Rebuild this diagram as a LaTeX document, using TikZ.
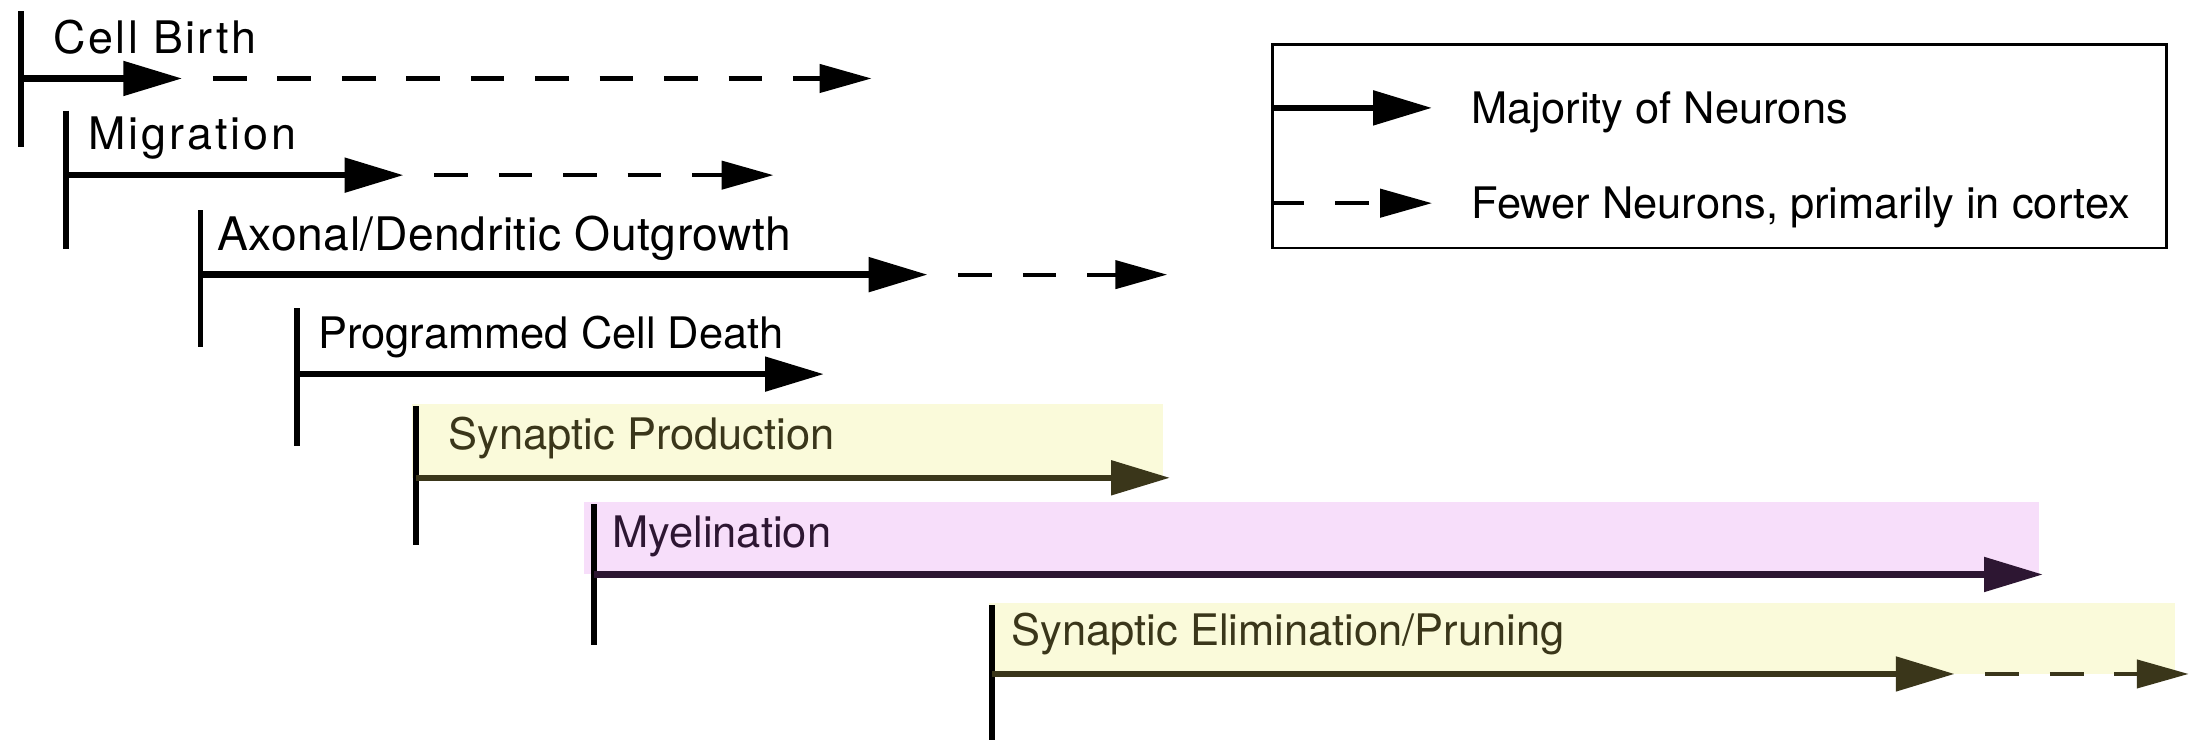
\documentclass[tikz,border=0pt]{standalone}
\usepackage{fontspec}
\setmainfont{TeX Gyre Heros}
\usetikzlibrary{arrows.meta}
\definecolor{ylw}{RGB}{250,250,218}
\definecolor{pnk}{RGB}{247,222,250}
\definecolor{olv}{RGB}{58,54,26}
\definecolor{plm}{RGB}{45,22,50}
\tikzset{
  lbl/.style={anchor=base west, font=\fontsize{31}{36}\selectfont, inner sep=0pt},
  widelbl/.style={anchor=base west, font=\fontsize{32}{36}\selectfont\addfontfeatures{LetterSpace=#1}, inner sep=0pt},
  tickline/.style={line width=4pt},
  solidarr/.style={line width=4.5pt, -{Triangle[length=42pt,width=24pt]}},
  dasharr/.style={line width=3pt, dash pattern=on 24pt off 22pt, dash phase=24pt, -{Triangle[length=37pt,width=20pt]}},
}
\begin{document}
\begin{tikzpicture}[x=1pt,y=-1pt]
\useasboundingbox (0,0) rectangle (1568,528);
% shaded bands
\fill[ylw] (294,288) rectangle (830,341);
\fill[pnk] (417,358) rectangle (1455,410);
\fill[ylw] (706,430) rectangle (1552,481);

% Cell Birth
\coordinate (cbT) at (15,8); \coordinate (cbB) at (15,105);
\coordinate (cbS) at (15,56); \coordinate (cbM) at (130,56); \coordinate (cbE) at (622,56);
\node[widelbl=5.5] (cb) at (38,38) {Cell Birth};
\draw[tickline] (cbT) -- (cbB);
\draw[solidarr] (cbS) -- (cbM);
\draw[dasharr] (cbM) -- (cbE);

% Migration
\coordinate (miT) at (47,79); \coordinate (miB) at (47,178);
\coordinate (miS) at (47,125); \coordinate (miM) at (288,125); \coordinate (miE) at (552,125);
\node[widelbl=6.7] (mi) at (63,107) {Migration};
\draw[tickline] (miT) -- (miB);
\draw[solidarr] (miS) -- (miM);
\draw[dasharr] (miM) -- (miE);

% Axonal/Dendritic Outgrowth
\coordinate (axT) at (143,150); \coordinate (axB) at (143,248);
\coordinate (axS) at (143,196); \coordinate (axM) at (662,196); \coordinate (axE) at (833,196);
\node[lbl, font=\fontsize{33}{38}\selectfont\addfontfeatures{LetterSpace=1.2}] (ax) at (155,179) {Axonal/Dendritic Outgrowth};
\draw[tickline] (axT) -- (axB);
\draw[solidarr] (axS) -- (axM);
\draw[dasharr] (axM) -- (axE);

% Programmed Cell Death
\coordinate (pcT) at (212,220); \coordinate (pcB) at (212,318);
\coordinate (pcS) at (212,267); \coordinate (pcE) at (588,267);
\node[lbl] (pc) at (227,249) {Programmed Cell Death};
\draw[tickline] (pcT) -- (pcB);
\draw[solidarr] (pcS) -- (pcE);

% Synaptic Production
\coordinate (spT) at (297,290); \coordinate (spB) at (297,389);
\coordinate (spS) at (297,341); \coordinate (spE) at (835,341);
\node[lbl, text=olv] (sp) at (320,321) {Synaptic Production};
\draw[tickline] (spT) -- (spB);
\draw[solidarr, olv] (spS) -- (spE);

% Myelination
\coordinate (myT) at (424,360); \coordinate (myB) at (424,460);
\coordinate (myS) at (424,410); \coordinate (myE) at (1458,410);
\node[lbl, text=plm] (my) at (437,391) {Myelination};
\draw[tickline] (myT) -- (myB);
\draw[solidarr, plm] (myS) -- (myE);

% Synaptic Elimination/Pruning
\coordinate (seT) at (708,432); \coordinate (seB) at (708,528);
\coordinate (seS) at (708,481); \coordinate (seM) at (1395,481); \coordinate (seE) at (1562,481);
\node[lbl, text=olv] (se) at (722,461) {Synaptic Elimination/Pruning};
\draw[tickline] (seT) -- (seB);
\draw[solidarr, olv] (seS) -- (seM);
\draw[dasharr, olv] (seM) -- (seE);

% Legend
\node[draw, line width=2pt, minimum width=638pt, minimum height=145pt, anchor=north west, inner sep=0pt] (leg) at (907,31) {};
\coordinate (l1s) at (907,77); \coordinate (l1e) at (1022,77);
\coordinate (l2s) at (907,145); \coordinate (l2e) at (1022,145);
\draw[solidarr] (l1s) -- (l1e);
\draw[dasharr, dash phase=0pt] (l2s) -- (l2e);
\node[lbl] (l1) at (1050,88) {Majority of Neurons};
\node[lbl] (l2) at (1050,156) {Fewer Neurons, primarily in cortex};
\end{tikzpicture}
\end{document}
